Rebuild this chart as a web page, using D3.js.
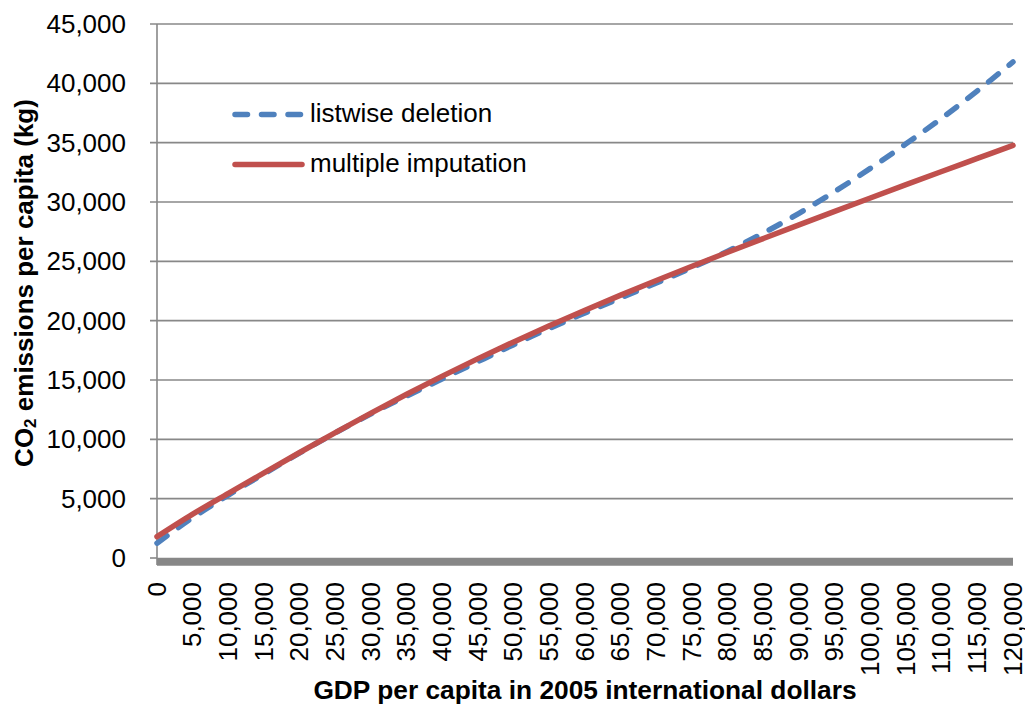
<!DOCTYPE html>
<html><head><meta charset="utf-8">
<script src="https://cdn.jsdelivr.net/npm/d3@7"></script>
<style>
html,body{margin:0;padding:0;background:#fff;}
svg{display:block;font-family:"Liberation Sans",Arial,sans-serif;}
</style></head>
<body><svg id="c" width="1025" height="704"></svg>
<script>
const gdp = [0,5000,10000,15000,20000,25000,30000,35000,40000,45000,50000,55000,60000,65000,70000,75000,80000,85000,90000,95000,100000,105000,110000,115000,120000];
const listwise = [1250,3400,5300,7100,8850,10550,12150,13650,15100,16550,17980,19350,20650,21920,23180,24470,25850,27380,29050,30880,32830,34900,37060,39360,41800];
const multiple = [1800,3700,5450,7180,8890,10570,12210,13800,15330,16800,18210,19570,20880,22150,23380,24580,25760,26920,28070,29210,30340,31460,32570,33670,34770];
const xTicks = d3.range(0,120001,5000);
const yTicks = d3.range(0,45001,5000);
const seriesNames = ["listwise deletion","multiple imputation"];

const svg = d3.select("#c");
const L=157, R=1013, T=24, B=558;
const x = d3.scaleLinear().domain([0,120000]).range([L,R]);
const y = d3.scaleLinear().domain([0,45000]).range([B,T]);
const fmt = d3.format(",");
const grid="#888888";

// horizontal gridlines
svg.append("g").selectAll("line").data(yTicks.filter(d=>d>0)).join("line")
  .attr("x1",L-7).attr("x2",R).attr("y1",d=>y(d)).attr("y2",d=>y(d))
  .attr("stroke",grid).attr("stroke-width",1.6);
// zero tick
svg.append("line").attr("x1",L-7).attr("x2",L).attr("y1",y(0)).attr("y2",y(0)).attr("stroke",grid).attr("stroke-width",1.6);
// y axis line
svg.append("line").attr("x1",L).attr("x2",L).attr("y1",T).attr("y2",y(0)+7).attr("stroke",grid).attr("stroke-width",1.6);
// thick x axis band
svg.append("line").attr("x1",L).attr("x2",R).attr("y1",y(0)+3.8).attr("y2",y(0)+3.8).attr("stroke","#878787").attr("stroke-width",8);

// y tick labels
svg.append("g").selectAll("text").data(yTicks).join("text")
  .attr("x",126).attr("y",d=>y(d)).attr("dy","0.35em").attr("text-anchor","end")
  .attr("font-size",26).attr("fill","#000").text(d=>fmt(d));
// x tick labels
svg.append("g").selectAll("text").data(xTicks).join("text")
  .attr("transform",d=>`translate(${x(d)},582) rotate(-90)`)
  .attr("dy","0.33em").attr("text-anchor","end")
  .attr("font-size",26).attr("fill","#000").text(d=>fmt(d));

// titles
svg.append("text").attr("x",585).attr("y",698.5).attr("text-anchor","middle")
  .attr("font-size",26.3).attr("font-weight","bold")
  .text("GDP per capita in 2005 international dollars");
const yt = svg.append("text").attr("transform","translate(33,283) rotate(-90)").attr("text-anchor","middle")
  .attr("font-size",26).attr("font-weight","bold");
yt.append("tspan").text("CO");
yt.append("tspan").attr("font-size",17).attr("dy",3).text("2");
yt.append("tspan").attr("dy",-3).text(" emissions per capita (kg)");

// lines
const line = d3.line().x((d,i)=>x(gdp[i])).y(d=>y(d)).curve(d3.curveCatmullRom);
svg.append("path").attr("d",line(listwise)).attr("fill","none")
  .attr("stroke","#4F81BD").attr("stroke-width",5.5).attr("stroke-linecap","round")
  .attr("stroke-dasharray","12.5,14");
svg.append("path").attr("d",line(multiple)).attr("fill","none")
  .attr("stroke","#C0504D").attr("stroke-width",5.5).attr("stroke-linecap","round");

// legend
const leg = [{name:seriesNames[0],color:"#4F81BD",dash:"12.5,14",ly:114.5,ty:122},{name:seriesNames[1],color:"#C0504D",dash:null,ly:164.5,ty:171.5}];
leg.forEach(l=>{
  svg.append("line").attr("x1",235).attr("x2",l.dash?303:302).attr("y1",l.ly).attr("y2",l.ly)
    .attr("stroke",l.color).attr("stroke-width",5.5).attr("stroke-linecap","round")
    .attr("stroke-dasharray",l.dash);
  svg.append("text").attr("x",310).attr("y",l.ty).attr("font-size",26).attr("fill","#000").text(l.name);
});
</script></body></html>
